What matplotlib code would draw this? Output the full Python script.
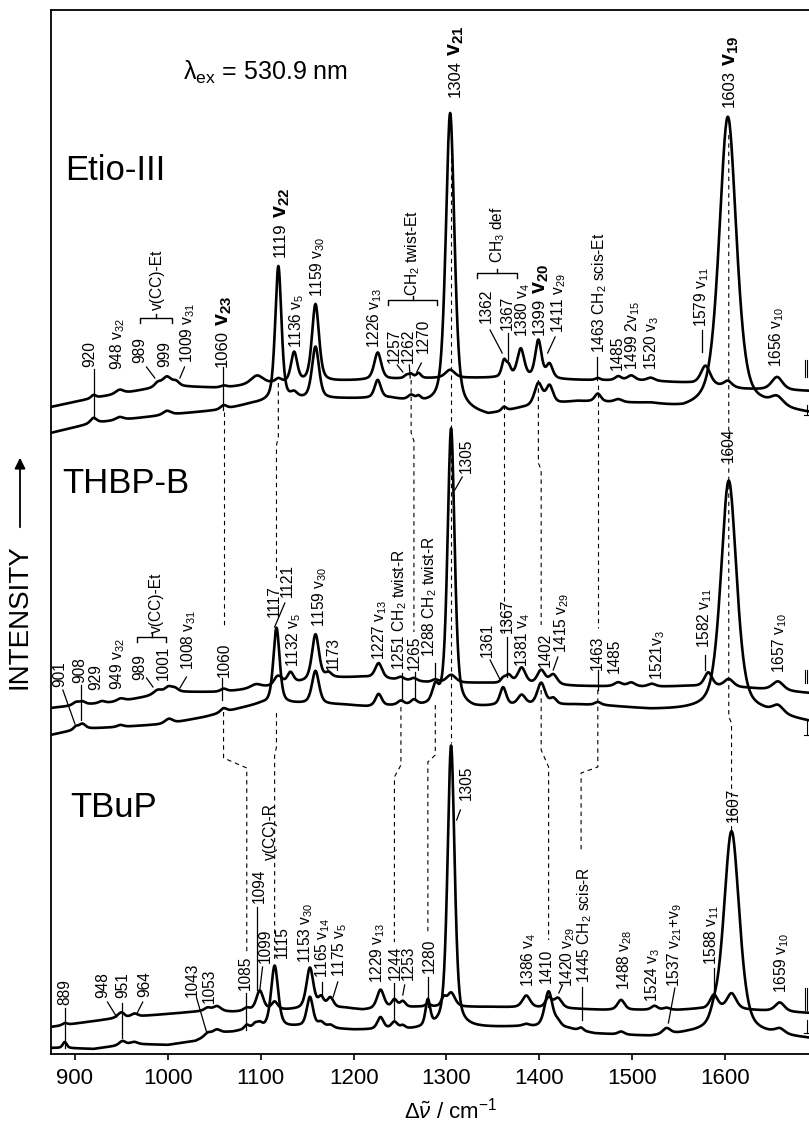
import numpy as np
import matplotlib
matplotlib.use("Agg")
import matplotlib.pyplot as plt

plt.rcParams["font.family"] = ["Liberation Sans", "DejaVu Sans"]
plt.rcParams["mathtext.fontset"] = "custom"
plt.rcParams["mathtext.rm"] = "Liberation Sans"
plt.rcParams["mathtext.it"] = "Liberation Sans:italic"
plt.rcParams["mathtext.bf"] = "Liberation Sans:bold"
plt.rcParams["mathtext.sf"] = "Liberation Sans"


# ---- spectra: baseline anchors (cm-1, intensity) + bands (position, height, fwhm) ----

ETIO_UP_BASE_W = [874, 920, 960, 999, 1058, 1080, 1110, 1150, 1190, 1250, 1300, 1350, 1440, 1520, 1560, 1620, 1690]
ETIO_UP_BASE_I = [647, 656, 662, 668, 666, 668, 670, 671, 673, 675, 676, 676, 674, 673, 671, 665, 663]
ETIO_UP_BANDS = [(920, 3, 6), (948, 4, 10), (989, 4, 8), (999, 9, 12), (1009, 4, 8), (1060, 2, 8),
                 (1096, 9, 16), (1119, 4, 8), (1136, 30, 8), (1159, 78, 9), (1226, 27, 9),
                 (1257, 3, 6), (1262, 4, 6), (1270, 5, 6), (1304, 8, 12), (1362, 16, 6),
                 (1367, 10, 6), (1380, 29, 9), (1399, 38, 8), (1411, 14, 8), (1463, 2, 6),
                 (1485, 4, 8), (1499, 5, 10), (1520, 3, 10), (1579, 19, 12), (1603, 6, 10),
                 (1656, 13, 14)]

ETIO_LO_BASE_W = [874, 920, 999, 1058, 1090, 1140, 1190, 1240, 1345, 1380, 1440, 1520, 1555, 1640, 1690]
ETIO_LO_BASE_I = [621, 631, 639, 644, 650, 654, 655, 655, 638, 645, 652, 649, 643, 645, 640]
ETIO_LO_BANDS = [(920, 5, 8), (948, 3, 10), (999, 4, 10), (1060, 4, 8), (1119, 135, 8),
                 (1136, 5, 8), (1159, 52, 9), (1226, 18, 8), (1262, 5, 8), (1270, 4, 6),
                 (1304, 296, 11), (1362, 4, 6), (1399, 22, 10), (1411, 18, 9), (1463, 8, 8),
                 (1485, 3, 10), (1603, 293, 22), (1656, 9, 16)]

THBP_UP_BASE_W = [874, 905, 946, 975, 1000, 1058, 1100, 1140, 1180, 1210, 1260, 1290, 1340, 1440, 1520, 1560, 1625, 1690]
THBP_UP_BASE_I = [346, 349, 352, 357, 362, 362, 366, 371, 376, 377, 373, 371, 371, 368, 367, 368, 366, 361]
THBP_UP_BANDS = [(901, 3, 8), (908, 3, 8), (929, 2, 8), (949, 3, 10), (989, 4, 10), (1001, 5, 10),
                 (1008, 3, 8), (1060, 3, 8), (1095, 4, 14), (1117, 6, 8), (1121, 5, 8),
                 (1132, 11, 8), (1159, 46, 9), (1173, 5, 8), (1227, 15, 9), (1251, 3, 8),
                 (1265, 3, 8), (1288, 3, 8), (1305, 8, 12), (1361, 4, 6), (1367, 8, 8),
                 (1381, 16, 10), (1402, 14, 10), (1415, 10, 10), (1485, 4, 10), (1499, 4, 10),
                 (1521, 3, 10), (1582, 14, 10), (1604, 8, 12), (1657, 9, 14)]

THBP_LO_BASE_W = [874, 905, 950, 1000, 1040, 1080, 1100, 1140, 1190, 1215, 1250, 1330, 1350, 1440, 1470, 1520, 1560, 1640, 1690]
THBP_LO_BASE_I = [319, 325, 327, 330, 337, 346, 350, 350, 349, 347, 348, 345, 347, 349, 348, 344, 343, 340, 332]
THBP_LO_BANDS = [(901, 3, 6), (908, 5, 8), (949, 2, 8), (1001, 5, 10), (1060, 4, 8),
                 (1117, 76, 8), (1159, 33, 9), (1227, 12, 8), (1251, 4, 8), (1265, 5, 8),
                 (1288, 16, 8), (1305, 279, 9), (1361, 18, 8), (1381, 10, 10), (1402, 22, 10),
                 (1415, 6, 8), (1463, 3, 8), (1604, 232, 20), (1657, 8, 14)]

TBUP_UP_BASE_W = [874, 905, 946, 1000, 1040, 1070, 1100, 1130, 1190, 1210, 1270, 1350, 1440, 1470, 1550, 1570, 1625, 1690]
TBUP_UP_BASE_I = [27, 31, 36, 40, 43, 42, 43, 44, 46, 44, 47, 47, 45, 44, 44, 45, 44, 41]
TBUP_UP_BANDS = [(889, 2, 6), (948, 3, 8), (951, 3, 6), (964, 3, 8), (1043, 3, 8), (1053, 5, 10),
                 (1085, 3, 8), (1099, 20, 9), (1115, 8, 8), (1153, 41, 9), (1165, 10, 7),
                 (1175, 10, 8), (1229, 19, 9), (1244, 8, 7), (1253, 6, 7), (1280, 3, 6),
                 (1297, 8, 6), (1305, 14, 10), (1386, 12, 10), (1410, 10, 8), (1420, 10, 10),
                 (1488, 10, 9), (1524, 4, 8), (1537, 2, 8), (1588, 14, 10), (1607, 16, 12),
                 (1659, 9, 12)]

TBUP_LO_BASE_W = [874, 889, 920, 960, 1000, 1030, 1050, 1070, 1090, 1140, 1200, 1260, 1340, 1380, 1430, 1460, 1520, 1560, 1650, 1690]
TBUP_LO_BASE_I = [6, 6, 5, 10, 9, 13, 21, 22, 25, 27, 24, 24, 26, 27, 25, 20, 17, 19, 18, 15]
TBUP_LO_BANDS = [(889, 6, 5), (951, 4, 8), (964, 2, 8), (1043, 3, 8), (1053, 3, 8), (1085, 4, 6),
                 (1094, 4, 6), (1099, 4, 6), (1115, 62, 9), (1153, 30, 8), (1165, 5, 8),
                 (1175, 3, 8), (1229, 12, 8), (1244, 7, 8), (1253, 3, 6), (1280, 26, 6),
                 (1305, 283, 9), (1386, 2, 8), (1410, 36, 10), (1420, 5, 8), (1445, 3, 6),
                 (1488, 3, 8), (1537, 6, 10), (1588, 8, 10), (1607, 204, 20), (1659, 5, 12)]

XTICKS = [900, 1000, 1100, 1200, 1300, 1400, 1500, 1600]

# ---- band labels: (x in cm-1, bottom of text, text) ----
ETIO_LABELS = [(916, 687, "920"), (946, 684, "948 v$_{32}$"), (970, 691, "989"), (997, 687, "999"),
               (989, 744, "v(CC)-Et"), (1021, 691, "1009 v$_{31}$"), (1139, 706, "1136 v$_5$"),
               (1161, 757, "1159 v$_{30}$"), (1223, 706, "1226 v$_{13}$"), (1244, 691, "1257"),
               (1259, 691, "1262"), (1275, 701, "1270"), (1264, 758, "CH$_2$ twist-Et"),
               (1355, 791, "CH$_3$ def"), (1343, 731, "1362"), (1366, 724, "1367"),
               (1382, 717, "1380 v$_4$"), (1421, 721, "1411 v$_{29}$"),
               (1465, 701, "1463 CH$_2$ scis-Et"), (1484, 684, "1485"), (1501, 684, "1499 2v$_{15}$"),
               (1521, 684, "1520 v$_3$"), (1575, 727, "1579 v$_{11}$"), (1656, 687, "1656 v$_{10}$")]
ETIO_BIG = [(1059, 687, "1060", "23"), (1121, 797, "1119", "22"), (1309, 957, "1304", "21"),
            (1400, 719, "1399", "20"), (1605, 947, "1603", "19")]

THBP_LABELS = [(884, 367, "901"), (905, 371, "908"), (922, 364, "929"), (946, 364, "949 v$_{32}$"),
               (970, 374, "989"), (988, 421, "v(CC)-Et"), (995, 374, "1001"),
               (1022, 384, "1008 v$_{31}$"), (1061, 377, "1060"), (1115, 437, "1117"),
               (1129, 457, "1121"), (1135, 387, "1132 v$_5$"), (1164, 427, "1159 v$_{30}$"),
               (1178, 384, "1173"), (1228, 394, "1227 v$_{13}$"), (1250, 384, "1251 CH$_2$ twist-R"),
               (1266, 384, "1265"), (1282, 397, "1288 CH$_2$ twist-R"), (1322, 581, "1305"),
               (1344, 397, "1361"), (1366, 421, "1367"), (1382, 387, "1381 v$_4$"),
               (1406, 387, "1402"), (1424, 401, "1415 v$_{29}$"), (1463, 384, "1463"),
               (1481, 381, "1485"), (1527, 374, "1521v$_3$"), (1578, 406, "1582 v$_{11}$"),
               (1604, 592, "1604"), (1659, 381, "1657 v$_{10}$")]

TBUP_LABELS = [(889, 49, "889"), (930, 56, "948"), (951, 56, "951"), (975, 57, "964"),
               (1026, 57, "1043"), (1045, 51, "1053"), (1083, 64, "1085"), (1099, 151, "1094"),
               (1105, 91, "1099"), (1110, 194, "v(CC)-R"), (1123, 96, "1115"),
               (1148, 91, "1153 v$_{30}$"), (1167, 76, "1165 v$_{14}$"), (1185, 77, "1175 v$_5$"),
               (1226, 71, "1229 v$_{13}$"), (1245, 74, "1244"), (1259, 74, "1253"),
               (1282, 81, "1280"), (1322, 254, "1305"), (1388, 67, "1386 v$_4$"),
               (1408, 71, "1410"), (1430, 67, "1420 v$_{29}$"), (1449, 71, "1445 CH$_2$ scis-R"),
               (1492, 64, "1488 v$_{28}$"), (1522, 52, "1524 v$_3$"),
               (1546, 67, "1537 v$_{21}$+v$_9$"), (1586, 89, "1588 v$_{11}$"), (1609, 232, "1607"),
               (1661, 61, "1659 v$_{10}$")]

# leader lines (x1, y1, x2, y2)
LEADERS = [(920, 685, 920, 636), (977, 687, 986, 676), (1018, 687, 1013, 676), (1059, 687, 1059, 644),
           (1247, 689, 1253, 682), (1260, 689, 1261, 676), (1273, 691, 1268, 682),
           (1347, 724, 1360, 701), (1366, 721, 1366, 694), (1417, 717, 1409, 701),
           (1462, 697, 1462, 674), (1575, 724, 1575, 702),
           (887, 364, 900, 330), (906, 369, 906, 334), (977, 376, 984, 367), (1020, 377, 1013, 366),
           (1058, 376, 1058, 354), (1126, 451, 1115, 427), (1252, 381, 1252, 354),
           (1266, 382, 1266, 354), (1288, 391, 1288, 377), (1317, 577, 1309, 564),
           (1347, 394, 1358, 374), (1365, 417, 1365, 377), (1420, 397, 1415, 384),
           (1463, 384, 1463, 364), (1578, 399, 1578, 384),
           (889, 46, 889, 6), (935, 52, 945, 37), (951, 51, 951, 16), (973, 52, 967, 41),
           (1031, 56, 1042, 21), (1084, 61, 1084, 24), (1096, 147, 1096, 64),
           (1102, 87, 1099, 64), (1166, 72, 1166, 57), (1183, 72, 1178, 57),
           (1243, 71, 1243, 34), (1255, 69, 1253, 59), (1280, 77, 1280, 47),
           (1315, 244, 1311, 234), (1425, 69, 1421, 61), (1446, 67, 1446, 34),
           (1546, 66, 1539, 31), (1588, 86, 1588, 64)]

# braces over grouped bands (x_left, x_right, y)
BRACES = [(970, 1004, 736), (1237, 1290, 754), (1333, 1376, 781), (967, 998, 417)]

# dashed correlation lines between the three compounds
CORRELATIONS = [
    [(1060, 642), (1060, 426)],
    [(1060, 342), (1060, 296), (1085, 286), (1085, 101)],
    [(1119, 671), (1119, 617), (1117, 609), (1117, 476)],
    [(1117, 341), (1117, 307), (1115, 299), (1115, 94)],
    [(1262, 674), (1262, 621), (1265, 613), (1265, 422)],
    [(1251, 347), (1251, 289), (1244, 277), (1244, 112)],
    [(1288, 349), (1288, 299), (1280, 292), (1280, 121)],
    [(1305, 904), (1305, 311)],
    [(1362, 674), (1362, 421)],
    [(1399, 674), (1399, 591), (1402, 584), (1402, 429)],
    [(1402, 364), (1402, 304), (1410, 287), (1410, 114)],
    [(1463, 669), (1463, 426)],
    [(1463, 364), (1463, 287), (1445, 281), (1445, 202)],
    [(1604, 919), (1604, 337), (1607, 331), (1607, 224)],
]

GRID = np.arange(874, 1691, 0.5)


def spectrum(base_w, base_i, bands):
    y = np.interp(GRID, base_w, base_i)
    for pos, height, fwhm in bands:
        x = (GRID - pos) / (fwhm / 2)
        y = y + height * (0.5 / (1 + x ** 2) + 0.5 * np.exp(-np.log(2) * x ** 2))
    return y


fig = plt.figure(figsize=(8.09, 11.22), dpi=100)
ax = fig.add_axes([51 / 809, 68 / 1122, 758 / 809, 1044 / 1122])
ax.set_xlim(874.2, 1690.4)
ax.set_ylim(0, 1044)

for bw, bi, bands in [(ETIO_UP_BASE_W, ETIO_UP_BASE_I, ETIO_UP_BANDS),
                      (ETIO_LO_BASE_W, ETIO_LO_BASE_I, ETIO_LO_BANDS),
                      (THBP_UP_BASE_W, THBP_UP_BASE_I, THBP_UP_BANDS),
                      (THBP_LO_BASE_W, THBP_LO_BASE_I, THBP_LO_BANDS),
                      (TBUP_UP_BASE_W, TBUP_UP_BASE_I, TBUP_UP_BANDS),
                      (TBUP_LO_BASE_W, TBUP_LO_BASE_I, TBUP_LO_BANDS)]:
    ax.plot(GRID, spectrum(bw, bi, bands), color="black", lw=1.9, solid_joinstyle="round")

# labels
for x, y, s in ETIO_LABELS + THBP_LABELS + TBUP_LABELS:
    ax.text(x, y, s, rotation=90, ha="center", va="bottom", fontsize=11.2)

# the strong modes get a larger bold "v" above the number
renderer = fig.canvas.get_renderer()
for x, y, num, sub in ETIO_BIG:
    t = ax.text(x, y, num, rotation=90, ha="center", va="bottom", fontsize=12)
    top = ax.transData.inverted().transform((0, t.get_window_extent(renderer).y1))[1]
    ax.text(x + 1, top + 4, r"$\mathbf{v}_{\mathbf{" + sub + "}}$", rotation=90,
            ha="center", va="bottom", fontsize=15.5)

for x1, y1, x2, y2 in LEADERS:
    ax.plot([x1, x2], [y1, y2], color="black", lw=0.9)

for xl, xr, y in BRACES:
    xm = (xl + xr) / 2
    ax.plot([xl, xl, xr, xr], [y - 5, y, y, y - 5], color="black", lw=1.0)
    ax.plot([xm, xm], [y, y + 4], color="black", lw=1.0)

for pts in CORRELATIONS:
    xs, ys = zip(*pts)
    ax.plot(xs, ys, color="black", lw=0.8, dashes=(4, 3.5))

# cut-off scale marks at the right edge
for y1, y2 in [(677, 694), (371, 384), (44, 66)]:
    for dx in (1686.3, 1688.5):
        ax.plot([dx, dx], [y1, y2], color="black", lw=0.8, clip_on=False)
for y1, y2 in [(639, 649), (319, 334), (21, 34)]:
    ax.plot([1688, 1688], [y1, y2], color="black", lw=0.8, clip_on=False)
    ax.plot([1685, 1690], [y1, y1], color="black", lw=0.8, clip_on=False)

ax.text(889, 874, "Etio-III", fontsize=25, ha="left", va="baseline")
ax.text(886, 561, "THBP-B", fontsize=25, ha="left", va="baseline")
ax.text(895, 237, "TBuP", fontsize=25, ha="left", va="baseline")
ax.text(1016, 974, "λ$_{\\mathrm{ex}}$ = 530.9 nm", fontsize=18, ha="left", va="baseline")

ax.spines["right"].set_visible(False)
for side in ("left", "top", "bottom"):
    ax.spines[side].set_linewidth(1.3)
ax.set_yticks([])
ax.set_xticks(XTICKS)
ax.set_xticklabels([str(t) for t in XTICKS], fontsize=16)
ax.tick_params(axis="x", direction="out", length=4, width=1.2, pad=6)

fig.text(451 / 809, 1 - 1111 / 1122, r"Δ$\tilde{\nu}$ / cm$^{-1}$", fontsize=16,
         ha="center", va="center")
fig.text(20 / 809, 1 - 617 / 1122, "INTENSITY", fontsize=20, rotation=90,
         ha="center", va="center")
ax.annotate("", xy=(20, 1122 - 455), xytext=(20, 1122 - 530),
            xycoords="figure pixels", textcoords="figure pixels",
            arrowprops=dict(arrowstyle="-|>", color="black", lw=1.3, mutation_scale=16))

fig.savefig("out.png", dpi=100)
